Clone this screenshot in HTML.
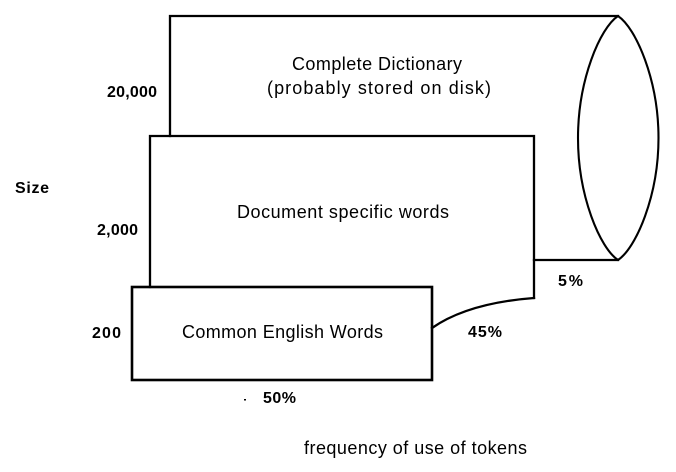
<!DOCTYPE html>
<html>
<head>
<meta charset="utf-8">
<style>
  html, body { margin: 0; padding: 0; background: #fff; }
  svg { display: block; }
  text { font-family: "Liberation Sans", Arial, sans-serif; fill: #000; }
  .lbl { font-size: 18px; }
  .b { font-size: 16px; font-weight: bold; }
</style>
</head>
<body>
<svg width="676" height="472" viewBox="0 0 676 472" xmlns="http://www.w3.org/2000/svg">
  <g fill="none" stroke="#000" stroke-width="2.3" stroke-linecap="square" stroke-linejoin="miter">
    <!-- Complete dictionary cylinder -->
    <polyline points="170,136 170,16 618,16"/>
    <path d="M618,16 C600,28 578,80 578,138 C578,196 600,248 618,260 C636,248 658.5,196 658.5,138 C658.5,80 636,28 618,16 Z" stroke-width="2.1"/>
    <line x1="534" y1="260" x2="618" y2="260"/>
    <!-- Document specific rect -->
    <polyline points="150,287 150,136 534,136 534,298"/>
    <!-- curve -->
    <path d="M432,328 Q468,303 534,298"/>
    <!-- Common English rect -->
    <rect x="132" y="287" width="300" height="93" stroke-width="2.6"/>
  </g>
  <rect x="244" y="399" width="2" height="1.5" fill="#000"/>

  <text class="lbl" x="292" y="70" textLength="170" lengthAdjust="spacing">Complete Dictionary</text>
  <text class="lbl" x="267" y="94" textLength="224" lengthAdjust="spacing">(probably stored on disk)</text>
  <text class="lbl" x="237" y="218" textLength="212" lengthAdjust="spacing">Document specific words</text>
  <text class="lbl" x="182" y="338" textLength="201" lengthAdjust="spacing">Common English Words</text>
  <text class="lbl" x="304" y="454" textLength="223" lengthAdjust="spacing">frequency of use of tokens</text>

  <text class="b" x="107" y="97" textLength="50" lengthAdjust="spacing">20,000</text>
  <text class="b" x="15" y="193" textLength="34" lengthAdjust="spacing">Size</text>
  <text class="b" x="97" y="235" textLength="41" lengthAdjust="spacing">2,000</text>
  <text class="b" x="92" y="338" textLength="29" lengthAdjust="spacing">200</text>
  <text class="b" x="558" y="286" textLength="25" lengthAdjust="spacing">5%</text>
  <text class="b" x="468" y="337" textLength="34" lengthAdjust="spacing">45%</text>
  <text class="b" x="263" y="403" textLength="33" lengthAdjust="spacing">50%</text>
</svg>
</body>
</html>
